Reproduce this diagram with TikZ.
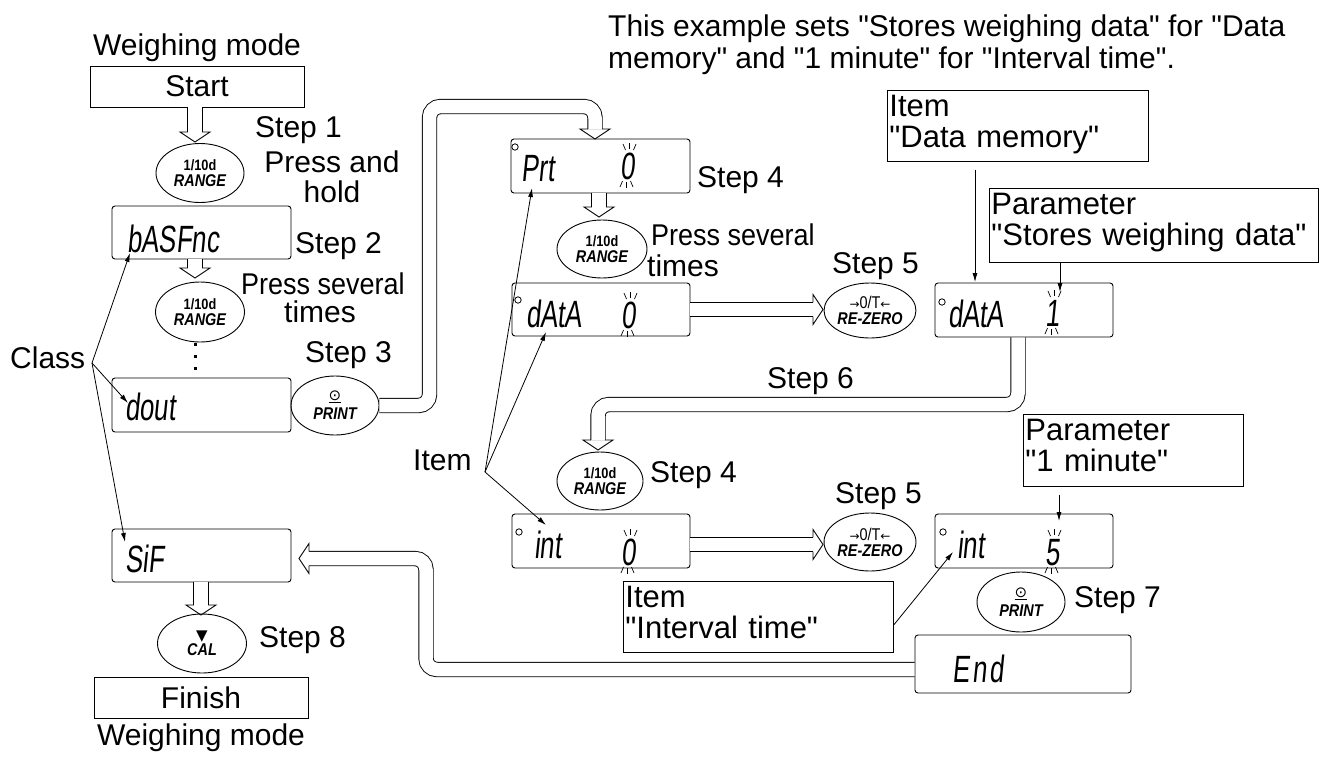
\documentclass[tikz,border=0pt]{standalone}
\usepackage{fontspec}
\setmainfont{Liberation Sans}[Ligatures=TeXOff]
\newfontfamily\segfont[FakeStretch=0.68,FakeSlant=0.1]{Liberation Sans}
\newfontfamily\btnfont[FakeStretch=0.85]{Liberation Sans}
\newfontfamily\narrowfont[FakeStretch=0.9]{Liberation Sans}
\newfontfamily\symfont{DejaVu Sans}
\usetikzlibrary{shapes.geometric,arrows.meta,calc}
\newcommand\dep[1]{\rule[-#1pt]{0pt}{#1pt}}
\newcommand\hdown[1]{\draw[hhead] (#1) ++(-7.2,-10) -- ++(-7.8,0) -- (#1) -- ++(15,-10) -- ++(-7.8,0);}
\newcommand\hright[1]{\draw[hhead] (#1) ++(-10,-7.2) -- ++(0,-7.8) -- (#1) -- ++(-10,15) -- ++(0,-7.8);}
\newcommand\hleft[1]{\draw[hhead] (#1) ++(10,-7.2) -- ++(0,-7.8) -- (#1) -- ++(10,15) -- ++(0,-7.8);}
\newcommand\blink[3]{%
  \draw[blinktick] ({#1-5},{#2-8}) -- ({#1-2.5},{#2-2});
  \draw[blinktick] ({#1+1.5},{#2-9}) -- ({#1+1.5},{#2-3});
  \draw[blinktick] ({#1+8},{#2-8}) -- ({#1+5.5},{#2-2});
  \draw[blinktick] ({#1-8},{#3+8}) -- ({#1-5.5},{#3+2});
  \draw[blinktick] ({#1-1.5},{#3+9}) -- ({#1-1.5},{#3+3});
  \draw[blinktick] ({#1+5},{#3+8}) -- ({#1+2.5},{#3+2});}
\newcommand\rangelbl{{\fontsize{15}{15}\selectfont\bfseries 1/10d}\\[-1pt]{\bfseries\itshape RANGE}}
\newcommand\printlbl{{\symfont\fontsize{15}{15}\selectfont\underline{⊙}}\\[2pt]{\bfseries\itshape PRINT}}
\newcommand\zerolbl{{\symfont\fontsize{12}{12}\selectfont →}0/T{\symfont\fontsize{12}{12}\selectfont ←}\\[-1pt]{\bfseries\itshape RE-ZERO}}
\tikzset{
  lbl/.style={font=\fontsize{30}{31}\selectfont, inner sep=0pt},
  nlbl/.style={font=\narrowfont\fontsize{30}{31}\selectfont, inner sep=0pt},
  boxlbl/.style={draw, line width=0.9pt, anchor=north west, align=left,
    font=\fontsize{31}{31}\selectfont, inner xsep=2pt, inner ysep=4.3pt},
  plainbox/.style={draw, line width=0.9pt, font=\fontsize{30}{31}\selectfont, inner sep=0pt},
  disp/.style={draw, line width=0.9pt, rounded corners=3pt, inner sep=0pt},
  segtxt/.style={font=\segfont\fontsize{38}{38}\selectfont, inner sep=0pt, anchor=base west},
  digittxt/.style={font=\segfont\fontsize{38}{38}\selectfont, inner sep=0pt, anchor=base},
  btn/.style={draw, ellipse, line width=0.9pt, inner sep=0pt, align=center,
    font=\btnfont\fontsize{17}{17}\selectfont},
  shaft/.style={double, double distance=13.5pt, line width=0.9pt, rounded corners=11pt},
  hhead/.style={line width=0.9pt, line join=miter},
  ptrarrow/.style={line width=0.8pt, -{Latex[length=9pt,width=5pt]}},
  blinktick/.style={line width=0.7pt},
  ledc/.style={line width=0.8pt},
}
\begin{document}
\begin{tikzpicture}[x=1pt,y=-1pt]
\useasboundingbox (0,0) rectangle (1322,758);

% ---- top text
\node[lbl, anchor=base west] (intro1) at (608,36) {This example sets "Stores weighing data" for "Data};
\node[lbl, anchor=base west] (intro2) at (608,68) {memory" and "1 minute" for "Interval time".};

% ---- left column
\node[lbl, anchor=base] (wm1) at (197,55) {Weighing mode};
\node[plainbox, minimum width=214pt, minimum height=41pt] (start) at (197,86.5) {Start};
\node[btn, minimum width=88pt, minimum height=59pt] (r1) at (200,173) {\rangelbl};
\node[lbl, anchor=base west] (s1) at (255,137) {Step 1};
\node[lbl, anchor=base] (s1a) at (332,172) {Press and};
\node[lbl, anchor=base] (s1b) at (332,202) {hold};

\node[disp, minimum width=179pt, minimum height=53pt] (bas) at (201.5,232.5) {};
\node[segtxt] (basT) at (127,252) {bASFnc};
\node[lbl, anchor=base west] (s2) at (295,253) {Step 2};

\node[btn, minimum width=89pt, minimum height=60pt] (r2) at (200,312) {\rangelbl};
\node[nlbl, anchor=base] (s2a) at (323,294) {Press several};
\node[lbl, anchor=base] (s2b) at (320,322) {times};
\fill (193.5,342.5) rectangle ++(3.5,3);
\fill (193.5,354.5) rectangle ++(3.5,3);
\fill (193.5,366.5) rectangle ++(3.5,3);

\node[disp, minimum width=179pt, minimum height=54pt] (dout) at (201.5,405) {};
\node[segtxt] (doutT) at (125,420) {dout};
\node[btn, minimum width=88pt, minimum height=59pt] (p1) at (335,405.5) {\printlbl};
\node[lbl, anchor=base west] (s3) at (305,362) {Step 3};

\node[disp, minimum width=179pt, minimum height=53pt] (sif) at (201.5,555.5) {};
\node[segtxt] (sifT) at (125,572) {SiF};
\node[btn, minimum width=89pt, minimum height=59pt] (c1) at (202,643.5)
  {{\symfont\fontsize{15}{15}\selectfont ▼}\\[-2pt]{\bfseries\itshape CAL}};
\node[lbl, anchor=base west] (s8) at (259,647) {Step 8};
\node[plainbox, minimum width=214pt, minimum height=41pt] (finish) at (201,697.5) {Finish};
\node[lbl, anchor=base] (wm2) at (201,745) {Weighing mode};

\node[lbl, anchor=base west] (cls) at (10,368) {Class};
\coordinate (cj) at (92,363);
\coordinate (ct1) at (130,253);
\coordinate (ct2) at (128,403);
\coordinate (ct3) at (125,542);
\draw[ptrarrow] (cj) -- (ct1);
\draw[ptrarrow] (cj) -- (ct2);
\draw[ptrarrow] (cj) -- (ct3);

% ---- middle column
\node[disp, minimum width=179pt, minimum height=54pt] (prt) at (600.5,166) {};
\draw[ledc] (515,147) circle (3.2);
\node[segtxt] (prtT) at (521,181) {Prt};
\node[digittxt] (prtD) at (628,179) {0};
\blink{628}{152}{179}
\node[lbl, anchor=base west] (s4a) at (697,187) {Step 4};

\node[btn, minimum width=90pt, minimum height=58pt] (r3) at (602,249) {\rangelbl};
\node[nlbl, anchor=base west] (s4x) at (651,245) {Press several};
\node[lbl, anchor=base west] (s4y) at (647,276) {times};

\node[disp, minimum width=178pt, minimum height=53pt] (da0) at (601,309.5) {};
\draw[ledc] (518,300) circle (3.2);
\node[segtxt] (da0T) at (526,327) {dAtA};
\node[digittxt] (da0D) at (629,328) {0};
\blink{629}{301}{328}

\node[btn, minimum width=87pt, minimum height=55pt] (z1) at (870,310.5) {\zerolbl};
\node[lbl, anchor=base west] (s5a) at (832,273) {Step 5};

\node[lbl, anchor=base west] (s6) at (767,388) {Step 6};

\node[btn, minimum width=86pt, minimum height=58pt] (r4) at (600,481) {\rangelbl};
\node[lbl, anchor=base west] (s4b) at (650,482) {Step 4};

\node[disp, minimum width=178pt, minimum height=54pt] (in0) at (601,541) {};
\draw[ledc] (519,532) circle (3.2);
\node[segtxt] (in0T) at (534,558) {int};
\node[digittxt] (in0D) at (629,565) {0};
\blink{629}{538}{565}

\node[btn, minimum width=86pt, minimum height=58pt] (z2) at (870,542) {\zerolbl};
\node[lbl, anchor=base west] (s5b) at (835,503) {Step 5};

\node[lbl, anchor=base west] (item) at (413,470) {Item};
\coordinate (ij) at (485,472);
\coordinate (it1) at (532,188);
\coordinate (it2) at (546,332);
\coordinate (it3) at (546,525);
\draw[ptrarrow] (ij) -- (it1);
\draw[ptrarrow] (ij) -- (it2);
\draw[ptrarrow] (ij) -- (it3);

% ---- right column
\node[boxlbl, text width=257pt] (idm) at (887,90) {Item\\"Data memory"\dep{9.7}};
\node[boxlbl, text width=325pt] (ps) at (989,188) {Parameter\\"Stores weighing data"\dep{12.7}};

\node[disp, minimum width=178pt, minimum height=54pt] (da1) at (1024,310) {};
\draw[ledc] (942,302) circle (3.2);
\node[segtxt] (da1T) at (948,327) {dAtA};
\node[digittxt] (da1D) at (1053,326) {1};
\blink{1053}{299}{326}

\node[boxlbl, text width=216pt] (pm) at (1023,414) {Parameter\\"1 minute"\dep{10.7}};

\node[disp, minimum width=178pt, minimum height=54pt] (in5) at (1024,541) {};
\draw[ledc] (943,532) circle (3.2);
\node[segtxt] (in5T) at (957,558) {int};
\node[digittxt] (in5D) at (1053,565) {5};
\blink{1053}{538}{565}

\node[btn, minimum width=88pt, minimum height=60pt] (p2) at (1021,602) {\printlbl};
\node[lbl, anchor=base west] (s7) at (1074,607) {Step 7};

\node[boxlbl, text width=266pt] (it) at (623,581) {Item\\"Interval time"\dep{9.7}};

\node[disp, minimum width=216pt, minimum height=58pt] (end) at (1023,664) {};
\node[segtxt] (endT) at (952,682) {E\hspace{3pt}n\hspace{3pt}d};

% ---- thin pointers from labelled boxes
\coordinate (t1) at (975,282);
\draw[ptrarrow, shorten <=8pt] (t1 |- idm.south) -- (t1);
\coordinate (t2) at (1060,292);
\draw[ptrarrow] (t2 |- ps.south) -- (t2);
\coordinate (t3) at (1059,521);
\draw[ptrarrow, shorten <=8pt] (t3 |- pm.south) -- (t3);
\coordinate (t4) at (953,552);
\draw[ptrarrow] ([yshift=-8pt]it.east) -- (t4);

% ---- hollow arrows (short)
\coordinate (v1) at (195,142);
\draw[shaft] (start.south -| v1) -- ($(v1)+(0,-10)$); \hdown{v1}
\coordinate (v2) at (195,278);
\draw[shaft] (bas.south -| v2) -- ($(v2)+(0,-10)$); \hdown{v2}
\coordinate (v3) at (599,217);
\draw[shaft] (prt.south -| v3) -- ($(v3)+(0,-10)$); \hdown{v3}
\coordinate (v4) at (201,615);
\draw[shaft] (sif.south -| v4) -- ($(v4)+(0,-10)$); \hdown{v4}
\coordinate (h1) at (823,309.5);
\draw[shaft] (da0.east |- h1) -- ($(h1)+(-10,0)$); \hright{h1}
\coordinate (h2) at (823,544.5);
\draw[shaft] (in0.east |- h2) -- ($(h2)+(-10,0)$); \hright{h2}

% ---- hollow arrows (long)
\coordinate (a1) at (429.5,405.5);
\coordinate (a2) at (429.5,106.5);
\coordinate (a3) at (595,106.5);
\coordinate (a4) at (595,139);
\draw[shaft] (p1.east) -- (a1) -- (a2) -- (a3) -- ($(a4)+(0,-10)$); \hdown{a4}

\coordinate (b1) at (1018,404.5);
\coordinate (b2) at (598,404.5);
\coordinate (b3) at (598,450);
\draw[shaft] (da1.south -| b1) -- (b1) -- (b2) -- ($(b3)+(0,-10)$); \hdown{b3}

\coordinate (c1a) at (426,669.5);
\coordinate (c2a) at (426,558.5);
\coordinate (c3a) at (299,558.5);
\draw[shaft] ([yshift=-5.5pt]end.west) -- (c1a) -- (c2a) -- ($(c3a)+(10,0)$); \hleft{c3a}
\end{tikzpicture}
\end{document}
